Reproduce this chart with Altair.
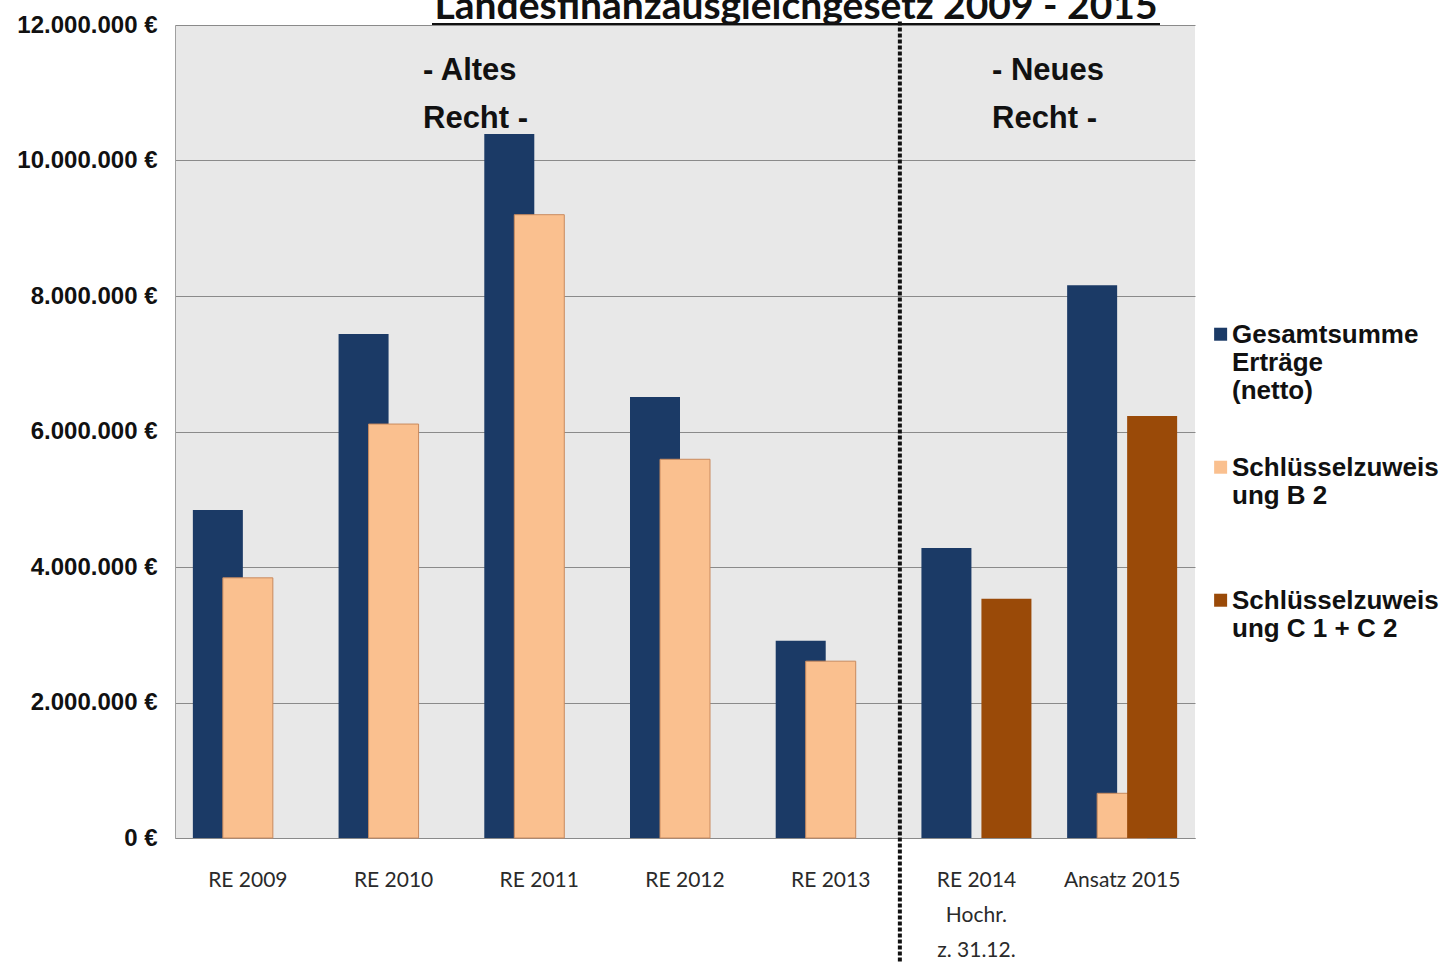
import json
import altair as alt
import pandas as pd

# Categories (x axis), multi-line labels are split on "\n"
categories = ["RE 2009", "RE 2010", "RE 2011", "RE 2012", "RE 2013",
              "RE 2014\nHochr.\nz. 31.12.", "Ansatz 2015"]

series = ["Gesamtsumme Erträge (netto)",
          "Schlüsselzuweisung B 2",
          "Schlüsselzuweisung C 1 + C 2"]

# Values in euro per category
gesamt = [4_840_000, 7_440_000, 10_390_000, 6_510_000, 2_910_000, 4_280_000, 8_160_000]
b2 = [3_840_000, 6_110_000, 9_200_000, 5_590_000, 2_610_000, None, 660_000]
c12 = [None, None, None, None, None, 3_530_000, 6_230_000]

colors = ["#1B3A66", "#FAC08F", "#9A4A08"]
bar_offsets = [-30, 0, 30]

legend_lines = {
    series[0]: ["Gesamtsumme", "Erträge", "(netto)"],
    series[1]: ["Schlüsselzuweis", "ung B 2", ""],
    series[2]: ["Schlüsselzuweis", "ung C 1 + C 2", ""],
}

y_ticks = [0, 2_000_000, 4_000_000, 6_000_000, 8_000_000, 10_000_000, 12_000_000]

title_text = "Landesfinanzausgleichgesetz 2009 - 2015"
note_old = ["- Altes", "Recht -"]
note_new = ["- Neues", "Recht -"]

rows = []
for s, vals in zip(series, [gesamt, b2, c12]):
    for c, v in zip(categories, vals):
        if v is not None:
            rows.append({"cat": c, "series": s, "value": v})
df = pd.DataFrame(rows)

sans = "Liberation Sans"
cat_font = "Lato"

legend_expr = " : ".join(
    f"datum.value == {json.dumps(k)} ? {json.dumps(v, ensure_ascii=False)}"
    for k, v in legend_lines.items()
) + " : datum.value"

x_enc = alt.X(
    "cat:N", sort=categories, title=None,
    axis=alt.Axis(labelAngle=0, ticks=False, domainColor="#8a8a8a",
                  labelFont=cat_font, labelFontSize=21, labelColor="#2a2a2a",
                  labelPadding=31, labelLineHeight=35,
                  labelExpr="split(datum.value, '\\n')"),
)
y_enc = alt.Y(
    "value:Q", title=None,
    scale=alt.Scale(domain=[0, 12_000_000], nice=False),
    axis=alt.Axis(values=y_ticks, ticks=False, domainColor="#a0a0a0",
                  gridColor="#8a8a8a", gridWidth=1,
                  labelFont=sans, labelFontWeight="bold", labelFontSize=24,
                  labelColor="#111111", labelPadding=18,
                  labelExpr="replace(format(datum.value, ',.0f'), regexp(',', 'g'), '.') + ' €'"),
)
# square legend symbol, lifted to sit beside the first label line
legend_symbol = "M-0.75,-2.35H1.25V-0.35H-0.75Z"
color_enc = alt.Color(
    "series:N", title=None,
    scale=alt.Scale(domain=series, range=colors),
    legend=alt.Legend(
        orient="none", legendX=1031, legendY=305,
        symbolType=legend_symbol, symbolSize=169, symbolStrokeWidth=0,
        labelFont=sans, labelFontWeight="bold", labelFontSize=26,
        labelColor="#111111", labelBaseline="alphabetic",
        labelLimit=400, labelOffset=0, rowPadding=51, padding=0,
        labelExpr=legend_expr,
    ),
)

layers = []
for s, off in zip(series, bar_offsets):
    stroke = {"stroke": "#C98A5E", "strokeWidth": 1} if s == series[1] else {}
    layers.append(
        alt.Chart(df).transform_filter(alt.datum.series == s)
        .mark_bar(width=50, xOffset=off, **stroke)
        .encode(x=x_enc, y=y_enc, color=color_enc)
    )

# Dotted separator between old and new law
sep = alt.Chart(pd.DataFrame({"cat": [categories[5]], "top": [12_050_000],
                              "bottom": [-2_000_000]})).mark_rule(
    strokeDash=[4, 2], strokeWidth=4, color="#111111", xOffset=-11
).encode(x=alt.X("cat:N", sort=categories, bandPosition=0), y="top:Q", y2="bottom:Q")

old_note = alt.Chart(pd.DataFrame({"t": [note_old]})).mark_text(
    font=sans, fontWeight="bold", fontSize=31, align="left",
    baseline="alphabetic", lineHeight=48, color="#111111"
).encode(text="t", x=alt.value(248), y=alt.value(55))

new_note = alt.Chart(pd.DataFrame({"t": [note_new]})).mark_text(
    font=sans, fontWeight="bold", fontSize=31, align="left",
    baseline="alphabetic", lineHeight=48, color="#111111"
).encode(text="t", x=alt.value(817), y=alt.value(55))

title = alt.Chart(pd.DataFrame({"t": [title_text]})).mark_text(
    font=cat_font, fontWeight="bold", fontSize=39, align="center",
    baseline="alphabetic", color="#111111"
).encode(text="t", x=alt.value(621), y=alt.value(-6))

underline = alt.Chart(pd.DataFrame({"t": [title_text]})).mark_rule(
    color="#111111", strokeWidth=2
).encode(x=alt.value(257), x2=alt.value(985), y=alt.value(-1))

chart = alt.layer(*layers, sep, old_note, new_note, title, underline).properties(
    width=1020, height=813,
    autosize=alt.AutoSizeParams(type="none"),
    padding={"left": 175, "top": 25, "right": 251, "bottom": 124},
    background="white",
).configure_view(fill="#e8e8e8", stroke=None)

chart.save("out.html", embed_options={"renderer": "svg", "actions": False})
